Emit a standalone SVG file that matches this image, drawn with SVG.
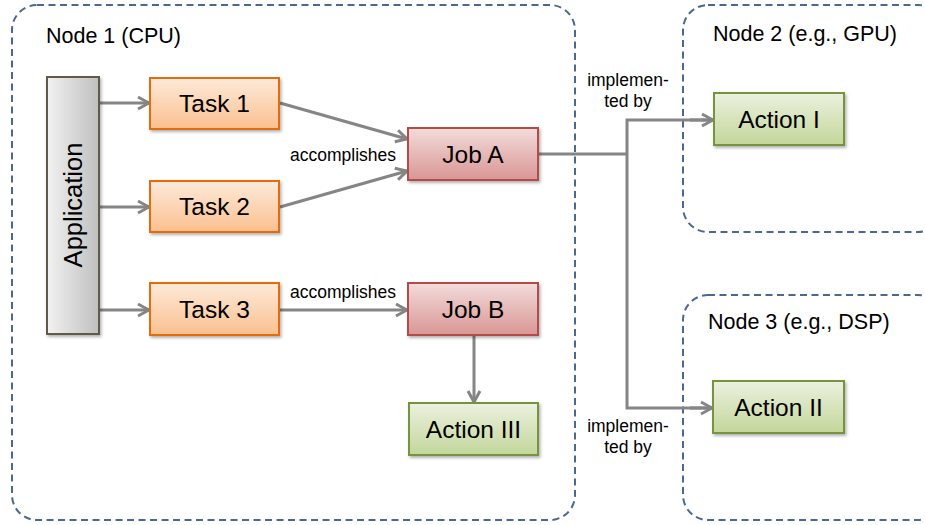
<svg xmlns="http://www.w3.org/2000/svg" width="925" height="525" viewBox="0 0 925 525">
<style>
  .grp{fill:none;stroke:#4a6890;stroke-width:2;stroke-dasharray:7 4.5}
  .glabel{font-family:"Liberation Sans",Arial,sans-serif;font-size:21.5px;fill:#000}
  .btxt{font-family:"Liberation Sans",Arial,sans-serif;font-size:24.5px;fill:#000;text-anchor:middle}
  .ltxt{font-family:"Liberation Sans",Arial,sans-serif;font-size:17.5px;fill:#000;text-anchor:middle}
  .task{fill:url(#gOrange);stroke:#e46c0a;stroke-width:2}
  .job{fill:url(#gRed);stroke:#b34c48;stroke-width:2}
  .act{fill:url(#gGreen);stroke:#77933c;stroke-width:2}
  .app{fill:url(#gGray);stroke:#5e5a48;stroke-width:2}
  .conn{fill:none;stroke:#858585;stroke-width:3}
</style>
<defs>
  <linearGradient id="gOrange" x1="0" y1="0" x2="0" y2="1">
    <stop offset="0" stop-color="#fdeada"/>
    <stop offset="1" stop-color="#fac08f"/>
  </linearGradient>
  <linearGradient id="gRed" x1="0" y1="0" x2="0" y2="1">
    <stop offset="0" stop-color="#f2dcdb"/>
    <stop offset="1" stop-color="#d99694"/>
  </linearGradient>
  <linearGradient id="gGreen" x1="0" y1="0" x2="0" y2="1">
    <stop offset="0" stop-color="#ebf1de"/>
    <stop offset="1" stop-color="#c3d69b"/>
  </linearGradient>
  <linearGradient id="gGray" x1="0" y1="0" x2="1" y2="0">
    <stop offset="0" stop-color="#f2f2f2"/>
    <stop offset="1" stop-color="#bfbfbf"/>
  </linearGradient>
  <filter id="sh" x="-10%" y="-10%" width="130%" height="140%">
    <feDropShadow dx="1.5" dy="2" stdDeviation="1.5" flood-color="#000" flood-opacity="0.3"/>
  </filter>
  <marker id="arr" markerUnits="userSpaceOnUse" markerWidth="16" markerHeight="16" viewBox="0 0 16 16" refX="14" refY="8" orient="auto">
    <path d="M3,2 L14,8 L3,14" fill="none" stroke="#858585" stroke-width="3"/>
  </marker>
</defs>

<g id="node1-cpu">
  <rect class="grp" x="12" y="5" width="563" height="515" rx="25" ry="25"/>
  <text class="glabel" x="46" y="43">Node 1 (CPU)</text>
</g>
<g id="node2-gpu">
  <rect class="grp" x="683" y="5" width="260" height="227" rx="25" ry="25"/>
  <text class="glabel" x="713" y="41">Node 2 (e.g., GPU)</text>
</g>
<g id="node3-dsp">
  <rect class="grp" x="683" y="295" width="260" height="225" rx="25" ry="25"/>
  <text class="glabel" x="708" y="329">Node 3 (e.g., DSP)</text>
</g>

<g id="connectors">
  <line class="conn" x1="99" y1="103" x2="149" y2="103" marker-end="url(#arr)"/>
  <line class="conn" x1="99" y1="207" x2="149" y2="207" marker-end="url(#arr)"/>
  <line class="conn" x1="99" y1="310" x2="149" y2="310" marker-end="url(#arr)"/>
  <line class="conn" x1="280" y1="103" x2="407" y2="139" marker-end="url(#arr)"/>
  <line class="conn" x1="280" y1="207" x2="407" y2="171" marker-end="url(#arr)"/>
  <line class="conn" x1="280" y1="310" x2="407" y2="310" marker-end="url(#arr)"/>
  <line class="conn" x1="474" y1="335" x2="474" y2="402" marker-end="url(#arr)"/>
  <line class="conn" x1="538" y1="154" x2="627" y2="154"/>
  <polyline class="conn" points="712,120 627,120 627,408 712,408"/>
  <line class="conn" x1="690" y1="120" x2="713" y2="120" marker-end="url(#arr)"/>
  <line class="conn" x1="690" y1="408" x2="712" y2="408" marker-end="url(#arr)"/>
  <text class="ltxt" x="343" y="161">accomplishes</text>
  <text class="ltxt" x="343" y="298">accomplishes</text>
  <text class="ltxt" x="628" y="86">implemen-</text>
  <text class="ltxt" x="628" y="107">ted by</text>
  <text class="ltxt" x="628" y="432">implemen-</text>
  <text class="ltxt" x="628" y="453">ted by</text>
</g>

<g id="application">
  <rect class="app" x="47" y="77" width="52" height="257" filter="url(#sh)"/>
  <text class="btxt" style="font-size:25.5px" transform="translate(82,205) rotate(-90)">Application</text>
</g>
<g id="task1">
  <rect class="task" x="150" y="78" width="129" height="51" filter="url(#sh)"/>
  <text class="btxt" x="214.5" y="112">Task 1</text>
</g>
<g id="task2">
  <rect class="task" x="150" y="181" width="129" height="51" filter="url(#sh)"/>
  <text class="btxt" x="214.5" y="215">Task 2</text>
</g>
<g id="task3">
  <rect class="task" x="150" y="283" width="129" height="52" filter="url(#sh)"/>
  <text class="btxt" x="214.5" y="318">Task 3</text>
</g>
<g id="jobA">
  <rect class="job" x="408" y="128" width="130" height="52" filter="url(#sh)"/>
  <text class="btxt" x="473" y="163">Job A</text>
</g>
<g id="jobB">
  <rect class="job" x="408" y="283" width="130" height="52" filter="url(#sh)"/>
  <text class="btxt" x="473" y="318">Job B</text>
</g>
<g id="action3">
  <rect class="act" x="409" y="403" width="129" height="52" filter="url(#sh)"/>
  <text class="btxt" x="473.5" y="438">Action III</text>
</g>
<g id="action1">
  <rect class="act" x="714" y="93" width="130" height="52" filter="url(#sh)"/>
  <text class="btxt" x="779" y="128">Action I</text>
</g>
<g id="action2">
  <rect class="act" x="713" y="381" width="131" height="52" filter="url(#sh)"/>
  <text class="btxt" x="778.5" y="416">Action II</text>
</g>
</svg>
